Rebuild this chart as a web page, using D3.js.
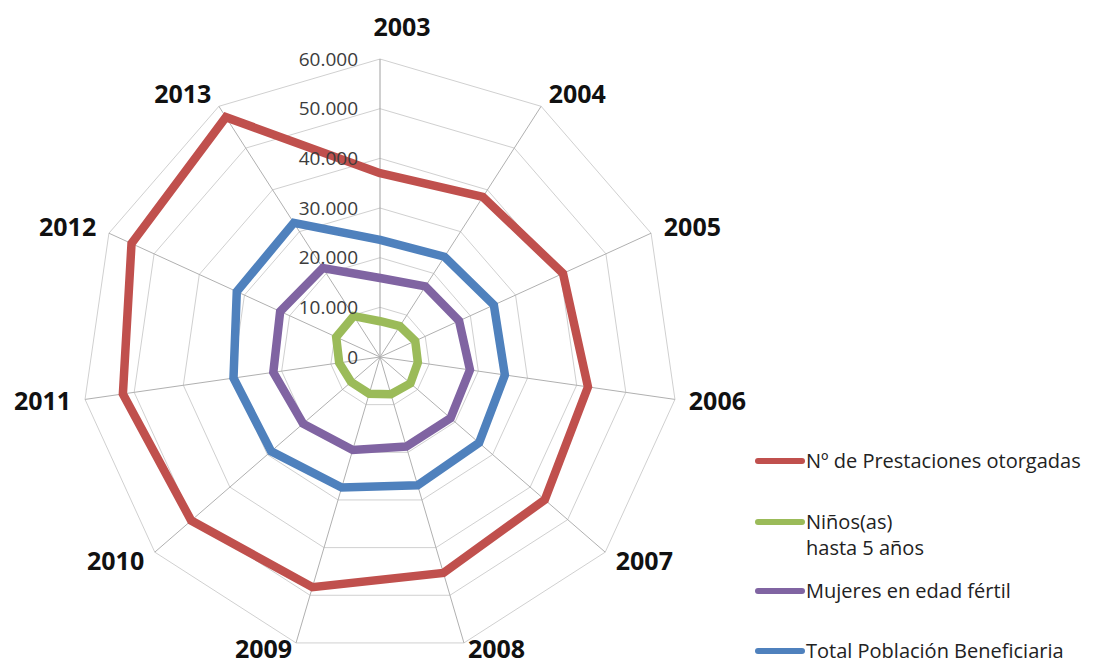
<!DOCTYPE html>
<html>
<head>
<meta charset="utf-8">
<script src="https://cdn.jsdelivr.net/npm/d3@7"></script>
<style>
  html, body { margin: 0; padding: 0; background: #fff; }
  svg { display: block; }
</style>
</head>
<body>
<svg id="chart" width="1093" height="667"></svg>
<script>
// Years on the radar axes (clockwise from the top)
const years = ["2003","2004","2005","2006","2007","2008","2009","2010","2011","2012","2013"];

// Series values per year
const prestaciones = [37000, 38300, 40500, 42300, 43900, 45300, 48300, 50300, 52300, 55000, 57400];
const ninos        = [7200, 7400, 7800, 7700, 8100, 7800, 7700, 7700, 8300, 9700, 9800];
const mujeres      = [15900, 16900, 17500, 18300, 18800, 18800, 19500, 20500, 21700, 22100, 21300];
const totalPob     = [23600, 24000, 25200, 25400, 26400, 26900, 27400, 29000, 29800, 31700, 32100];

// Radial ticks
const tickValues = [0, 10000, 20000, 30000, 40000, 50000, 60000];

const seriesNames  = ["Nº de Prestaciones otorgadas", "Niños(as)\nhasta 5 años", "Mujeres en edad fértil", "Total Población Beneficiaria"];
const seriesColors = ["#C0504D", "#9BBB59", "#8064A2", "#4F81BD"];
const seriesValues = [prestaciones, ninos, mujeres, totalPob];

const svg = d3.select("#chart");
const cx = 380, cy = 357, R = 298;

const r = d3.scaleLinear().domain([0, 60000]).range([0, R]);
const angle = d3.scalePoint().domain(years).range([0, 2 * Math.PI * (years.length - 1) / years.length]);

const fmt = d3.formatLocale({ decimal: ",", thousands: ".", grouping: [3], currency: ["", ""] }).format(",d");

const pt = (year, v) => {
  const a = angle(year);
  return [cx + r(v) * Math.sin(a), cy - r(v) * Math.cos(a)];
};

const g = svg.append("g");

// Concentric grid polygons
g.selectAll("path.grid")
  .data(tickValues.filter(t => t > 0))
  .join("path")
  .attr("class", "grid")
  .attr("d", t => d3.line()(years.map(y => pt(y, t))) + "Z")
  .attr("fill", "none")
  .attr("stroke", "#d0d0d0")
  .attr("stroke-width", 1);

// Spokes
g.selectAll("line.spoke")
  .data(years)
  .join("line")
  .attr("class", "spoke")
  .attr("x1", cx).attr("y1", cy)
  .attr("x2", y => pt(y, 60000)[0])
  .attr("y2", y => pt(y, 60000)[1])
  .attr("stroke", (y, i) => i === 0 ? "#a0a0a0" : "#b0b0b0")
  .attr("stroke-width", 1);

// Series lines
g.selectAll("path.series")
  .data(seriesValues)
  .join("path")
  .attr("class", "series")
  .attr("d", vals => d3.line()(years.map((y, i) => pt(y, vals[i]))) + "Z")
  .attr("fill", "none")
  .attr("stroke", (d, i) => seriesColors[i])
  .attr("stroke-width", 8.5)
  .attr("stroke-linejoin", "miter");

// Tick labels along the vertical axis, drawn above the lines
g.selectAll("text.tick")
  .data(tickValues)
  .join("text")
  .attr("class", "tick")
  .attr("x", cx - 22)
  .attr("y", t => cy - r(t))
  .attr("dy", "0.35em")
  .attr("text-anchor", "end")
  .attr("font-family", "'Open Sans', sans-serif")
  .attr("font-size", 19)
  .attr("fill", "#3c3c3c")
  .text(t => fmt(t));

// Category labels
g.selectAll("text.cat")
  .data(years)
  .join("text")
  .attr("class", "cat")
  .each(function (y) {
    const a = angle(y);
    const s = Math.sin(a), c = Math.cos(a);
    const sel = d3.select(this);
    if (Math.abs(s) < 0.1) {
      sel.attr("x", cx + 22).attr("y", cy - R - 32).attr("text-anchor", "middle");
    } else {
      sel.attr("x", cx + (R + 14) * s)
         .attr("y", cy - (R + 14) * c - (c < -0.9 ? 7 : 0))
         .attr("text-anchor", s > 0 ? "start" : "end");
    }
  })
  .attr("dy", "0.35em")
  .attr("font-family", "'Open Sans', sans-serif")
  .attr("font-weight", "bold")
  .attr("font-size", 25)
  .attr("fill", "#111")
  .text(y => y);

// Legend
const legendY = [461, 522, 591, 651];
const legend = svg.append("g");
seriesNames.forEach((name, i) => {
  const row = legend.append("g").attr("transform", `translate(0,${legendY[i]})`);
  row.append("line")
    .attr("x1", 758).attr("x2", 802)
    .attr("y1", 0).attr("y2", 0)
    .attr("stroke", seriesColors[i])
    .attr("stroke-width", 6)
    .attr("stroke-linecap", "round");
  const t = row.append("text")
    .attr("x", 806).attr("y", 0)
    .attr("font-family", "'Open Sans', sans-serif")
    .attr("font-size", 20)
    .attr("fill", "#222");
  name.split("\n").forEach((part, k) => {
    t.append("tspan")
      .attr("x", 806)
      .attr("dy", k === 0 ? "0.35em" : "1.3em")
      .text(part);
  });
});
</script>
</body>
</html>
